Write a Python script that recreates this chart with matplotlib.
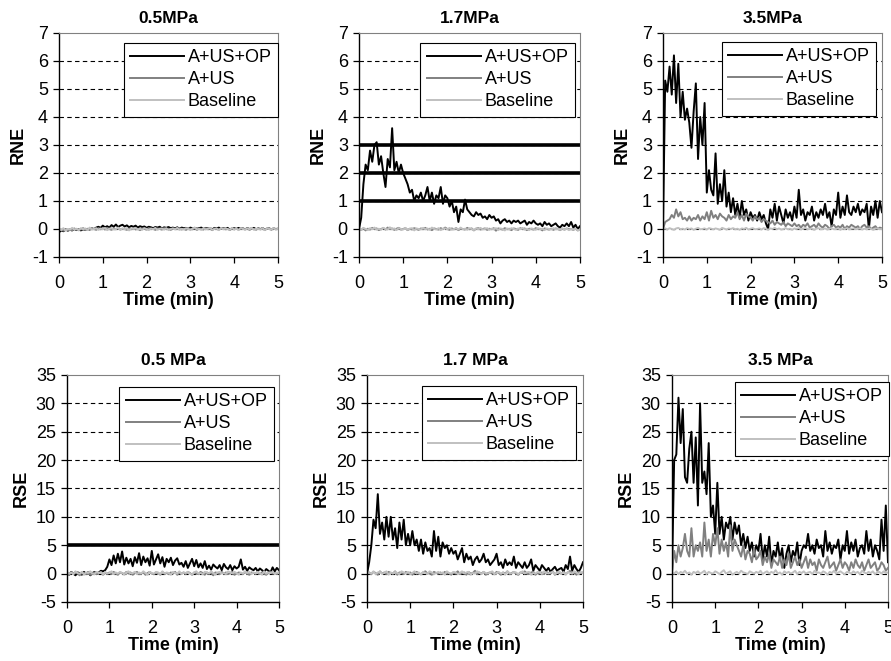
import matplotlib
matplotlib.use('Agg')
import matplotlib.pyplot as plt
import numpy as np

plt.rcParams['font.family'] = ['Liberation Sans', 'DejaVu Sans']
plt.rcParams['axes.unicode_minus'] = False

# series names and colours
labels = ['A+US+OP', 'A+US', 'Baseline']
colors = ['black', '#808080', '#c0c0c0']

titles = ['0.5MPa', '1.7MPa', '3.5MPa', '0.5 MPa', '1.7 MPa', '3.5 MPa']
ylabels = ['RNE', 'RNE', 'RNE', 'RSE', 'RSE', 'RSE']
xticks = [0, 1, 2, 3, 4, 5]
rne_ticks = [-1, 0, 1, 2, 3, 4, 5, 6, 7]
rse_ticks = [-5, 0, 5, 10, 15, 20, 25, 30, 35]

# threshold lines (thick solid)
rne_17_limits = [1, 2, 3]
rse_05_limits = [5]

# ---- RNE, 0.5 MPa ----
rne_05_op = [-0.12,-0.05,-0.08,-0.02,-0.06,-0.03,-0.05,0.0,-0.04,-0.02,-0.05,-0.01,-0.03,0.0,-0.02,0.02,0.0,0.05,0.08,0.04,
             0.12,0.06,0.1,0.05,0.14,0.08,0.16,0.07,0.12,0.15,0.09,0.13,0.06,0.11,0.08,0.12,0.05,0.1,0.07,0.09,
             0.04,0.08,0.06,0.03,0.07,0.05,0.08,0.02,0.06,0.04,0.07,0.03,0.05,0.02,0.06,0.01,0.05,0.03,0.04,0.0,
             0.05,0.02,0.04,0.01,0.03,0.05,0.0,0.04,0.02,0.03,-0.01,0.04,0.02,0.05,0.0,0.03,0.01,0.04,-0.02,0.02,
             0.03,0.0,0.04,0.01,0.02,-0.01,0.03,0.0,0.02,0.04,-0.01,0.02,0.0,0.03,-0.02,0.01,0.02,-0.01,0.02,0.0,0.01]
rne_05_us = [-0.05,-0.02,-0.06,0.0,-0.04,-0.01,-0.05,0.02,-0.03,0.0,-0.02,0.03,-0.04,0.01,-0.02,0.02,0.0,-0.03,0.03,-0.01,
             0.02,-0.02,0.04,0.0,-0.03,0.02,-0.01,0.03,-0.02,0.01,0.0,-0.03,0.02,-0.01,0.03,-0.02,0.01,-0.04,0.02,0.0,
             -0.02,0.03,-0.01,0.01,-0.03,0.02,0.0,-0.02,0.03,-0.01,0.01,-0.03,0.02,-0.01,0.0,0.03,-0.02,0.01,-0.03,0.02,
             0.0,-0.01,0.02,-0.03,0.01,0.0,-0.02,0.03,-0.01,0.01,-0.04,0.02,0.0,-0.02,0.01,0.03,-0.01,0.0,-0.03,0.02,
             -0.01,0.01,-0.02,0.03,0.0,-0.01,0.02,-0.03,0.01,0.0,-0.02,0.02,-0.01,0.01,-0.03,0.02,0.0,-0.02,0.01,-0.01,0.0]
rne_05_base = [0.02,-0.04,0.03,-0.06,0.0,-0.03,0.04,-0.02,0.01,-0.05,0.03,-0.01,0.02,-0.04,0.05,-0.02,0.0,0.03,-0.03,0.02,
               -0.01,0.04,-0.04,0.01,0.03,-0.02,0.0,0.05,-0.03,0.02,-0.01,0.03,-0.05,0.02,0.0,0.04,-0.02,0.01,-0.03,0.03,
               0.0,-0.04,0.02,-0.01,0.04,-0.03,0.01,0.02,-0.02,0.03,-0.04,0.0,0.02,-0.01,0.04,-0.03,0.01,-0.02,0.03,0.0,
               -0.04,0.02,0.05,-0.01,0.0,-0.03,0.03,-0.02,0.01,0.04,-0.03,0.0,0.02,-0.04,0.03,-0.01,0.02,0.0,-0.03,0.04,
               -0.02,0.01,-0.04,0.03,0.0,-0.02,0.02,-0.01,0.04,-0.03,0.01,0.0,-0.02,0.03,-0.04,0.02,0.0,-0.01,0.03,-0.02,0.01]

# ---- RNE, 1.7 MPa ----
rne_17_op = [0.0,0.4,1.6,2.3,2.1,2.8,2.4,3.0,3.1,2.3,2.6,2.0,1.5,2.5,2.2,3.6,2.1,2.4,2.0,2.3,
             2.0,1.8,1.6,1.3,1.4,1.0,1.2,1.1,1.3,1.0,1.2,1.5,1.0,1.3,0.9,1.2,1.1,1.5,0.9,1.2,
             1.1,0.8,1.0,0.6,0.8,0.25,0.7,0.6,1.05,0.7,0.6,0.5,0.45,0.6,0.5,0.55,0.4,0.45,0.35,0.5,
             0.4,0.45,0.3,0.35,0.2,0.3,0.35,0.25,0.3,0.2,0.3,0.25,0.3,0.2,0.25,0.3,0.15,0.25,0.2,0.3,
             0.2,0.15,0.2,0.1,0.25,0.15,0.2,0.1,0.15,0.2,0.1,0.05,0.15,0.1,0.2,0.1,0.25,0.05,0.15,0.0,0.1]
rne_17_us = [0.0,-0.03,0.02,-0.05,0.01,-0.02,0.04,-0.01,0.02,-0.04,0.0,0.03,-0.02,0.05,-0.01,0.02,-0.03,0.01,0.04,-0.02,
             0.0,0.03,-0.04,0.01,-0.02,0.03,0.0,-0.03,0.02,-0.01,0.04,-0.02,0.01,-0.04,0.02,0.0,-0.02,0.03,-0.01,0.05,
             0.0,-0.03,0.02,-0.01,0.03,-0.04,0.01,0.0,-0.02,0.04,-0.01,0.02,-0.05,0.01,0.03,-0.02,0.0,0.02,-0.03,0.01,
             -0.01,0.03,-0.06,0.02,0.0,-0.02,0.03,-0.01,0.01,-0.04,0.02,0.0,-0.03,0.03,-0.01,0.02,-0.04,0.01,0.0,-0.02,
             0.03,-0.01,0.01,-0.05,0.02,0.0,-0.02,0.01,-0.03,0.02,0.0,-0.04,0.01,-0.02,0.02,-0.01,0.0,-0.03,0.01,-0.05,-0.02]
rne_17_base = [0.02,-0.03,0.04,0.0,-0.04,0.03,-0.01,0.05,-0.02,0.01,-0.03,0.04,0.0,-0.02,0.06,-0.01,0.02,-0.04,0.03,0.0,
               -0.02,0.04,-0.03,0.01,0.03,-0.05,0.02,0.0,-0.02,0.04,-0.01,0.02,-0.03,0.05,0.0,-0.02,0.03,-0.04,0.01,0.02,
               -0.01,0.04,-0.03,0.0,0.02,-0.02,0.05,-0.01,0.01,-0.03,0.03,0.0,-0.04,0.02,-0.01,0.04,-0.02,0.0,0.03,-0.03,
               0.01,-0.01,0.03,-0.04,0.02,0.0,-0.05,0.02,-0.02,0.03,0.0,-0.03,0.02,-0.01,0.04,-0.02,0.01,-0.04,0.02,0.0,
               -0.03,0.03,-0.01,0.01,-0.04,0.02,0.0,-0.02,0.03,-0.01,0.0,-0.03,0.02,-0.02,0.01,-0.04,0.0,-0.02,0.01,-0.05,-0.03]

# ---- RNE, 3.5 MPa ----
rne_35_op = [0.0,5.3,4.9,5.8,4.8,6.2,4.5,5.9,4.0,4.9,3.9,4.3,3.8,2.9,4.2,5.2,2.5,4.0,3.0,4.5,
             1.3,2.1,1.4,1.2,2.7,0.9,1.6,1.0,2.1,0.8,1.3,0.6,1.1,0.5,0.9,0.4,1.0,0.5,0.7,0.3,
             0.6,0.4,0.5,0.3,0.6,0.35,0.5,0.2,0.0,0.7,0.4,0.9,0.3,0.8,0.5,0.2,0.7,0.4,0.6,0.3,
             0.8,0.4,1.4,0.5,0.7,0.3,0.6,0.5,0.8,0.3,0.6,0.4,0.7,0.5,0.9,0.4,0.6,0.1,0.7,0.5,
             1.3,0.4,0.8,0.5,1.2,0.6,0.5,0.8,0.6,0.9,0.5,0.7,0.6,0.9,0.0,0.8,0.5,1.0,0.4,1.0,0.6]
rne_35_us = [0.0,0.25,0.3,0.35,0.5,0.4,0.7,0.45,0.6,0.35,0.4,0.3,0.45,0.3,0.4,0.35,0.5,0.3,0.45,0.35,
             0.6,0.3,0.65,0.4,0.5,0.35,0.55,0.45,0.4,0.3,0.5,0.35,0.45,0.4,0.6,0.35,0.5,0.3,0.55,0.45,
             0.4,0.3,0.45,0.35,0.4,0.25,0.35,0.3,0.25,0.2,0.3,0.15,0.25,0.2,0.15,0.25,0.1,0.2,0.15,0.1,
             0.2,0.1,0.15,0.05,0.15,0.1,0.2,0.05,0.1,0.15,0.05,0.2,0.1,0.05,0.15,0.1,0.0,0.1,0.15,0.05,
             0.1,0.05,0.15,0.0,0.1,0.05,0.15,0.1,0.05,0.1,0.0,0.1,0.15,0.05,0.1,0.0,0.05,0.1,0.0,0.05,0.02]
rne_35_base = [0.0,0.02,-0.02,0.03,0.0,-0.03,0.02,0.04,-0.01,0.01,-0.02,0.03,0.0,0.02,-0.03,0.01,0.04,-0.01,0.0,0.02,
               -0.02,0.03,0.01,-0.01,0.02,0.0,-0.03,0.04,0.01,-0.02,0.02,0.0,0.03,-0.01,0.01,-0.03,0.02,0.0,0.04,-0.02,
               0.01,0.03,-0.01,0.0,0.02,-0.02,0.03,0.01,-0.03,0.02,0.0,0.04,-0.01,0.02,-0.02,0.0,0.03,-0.01,0.01,-0.03,
               0.02,0.0,0.03,-0.02,0.01,0.04,-0.01,0.0,0.02,-0.03,0.01,0.03,-0.01,0.0,0.02,-0.02,0.01,0.03,-0.01,0.0,
               0.02,-0.03,0.01,0.0,0.03,-0.02,0.01,0.02,-0.01,0.0,0.03,-0.02,0.01,-0.01,0.02,0.0,-0.03,0.01,0.02,-0.01,0.0]

# ---- RSE, 0.5 MPa ----
rse_05_op = [0.2,-0.2,0.3,0.0,-0.3,0.2,0.1,-0.2,0.3,0.0,0.2,-0.3,0.1,0.3,-0.1,0.2,0.5,0.4,0.6,1.2,
             2.5,1.5,3.2,1.8,3.5,2.0,3.9,1.6,2.8,1.8,2.6,1.3,2.9,1.9,3.6,1.5,3.0,2.0,2.7,1.4,
             4.0,1.6,2.5,3.4,1.8,2.9,1.2,2.6,2.0,2.8,1.5,2.3,2.7,1.6,1.9,1.2,2.2,1.0,1.8,2.6,
             1.3,2.4,1.1,1.8,1.0,2.2,0.8,1.4,0.7,1.6,1.2,0.9,1.5,0.6,1.7,1.1,0.8,1.5,0.6,1.3,
             0.9,1.2,2.5,0.7,1.2,0.5,1.1,0.8,0.6,1.0,0.4,0.9,0.6,0.3,0.8,0.5,0.2,1.1,0.4,1.0,0.6]
rse_05_us = [0.1,-0.2,0.2,-0.1,0.3,0.0,-0.3,0.2,0.1,-0.1,0.3,-0.2,0.0,0.2,-0.1,0.1,0.3,-0.2,0.1,0.0,
             0.2,-0.1,0.3,0.0,-0.2,0.2,0.1,-0.1,0.3,0.0,0.2,-0.2,0.1,0.3,-0.1,0.0,0.2,-0.2,0.1,0.3,
             0.0,-0.1,0.2,0.1,-0.2,0.3,0.0,0.1,-0.1,0.2,0.0,0.3,-0.2,0.1,0.0,0.2,-0.1,0.3,0.1,-0.2,
             0.2,0.0,-0.1,0.3,0.1,-0.2,0.2,0.0,0.1,-0.3,0.2,0.1,-0.1,0.3,0.0,0.2,-0.1,0.1,0.3,-0.2,
             0.0,0.2,0.1,-0.1,0.3,0.0,-0.2,0.2,0.1,0.0,0.3,-0.1,0.2,0.0,-0.2,0.1,0.3,0.0,0.1,-0.1,0.2]
rse_05_base = [0.3,0.0,0.2,-0.1,0.4,0.1,0.0,0.3,-0.2,0.2,0.1,0.4,0.0,-0.1,0.3,0.1,0.2,-0.2,0.3,0.0,
               0.1,0.4,-0.1,0.2,0.0,0.3,0.1,-0.2,0.2,0.4,0.0,0.1,0.3,-0.1,0.2,0.0,0.4,0.1,-0.2,0.3,
               0.1,0.0,0.3,0.2,-0.1,0.4,0.0,0.2,0.1,-0.2,0.3,0.1,0.0,0.4,-0.1,0.2,0.1,0.3,0.0,-0.2,
               0.2,0.4,0.0,0.1,-0.1,0.3,0.2,0.0,0.4,0.1,-0.2,0.2,0.3,0.0,0.1,-0.1,0.4,0.2,0.0,0.3,
               0.1,-0.2,0.2,0.0,0.4,0.1,0.3,-0.1,0.2,0.0,0.3,0.1,-0.2,0.4,0.0,0.2,0.1,0.3,-0.1,0.2,0.1]

# ---- RSE, 1.7 MPa ----
rse_17_op = [0.0,2.0,5.0,9.5,8.0,14.0,7.0,9.0,6.0,10.0,6.5,10.0,6.0,8.0,4.5,9.0,6.0,9.5,5.0,7.0,
             5.0,7.5,5.0,6.0,4.0,6.0,3.5,5.5,4.0,4.5,3.0,7.5,4.0,6.5,3.0,5.5,4.5,5.0,3.5,4.5,
             3.5,4.0,2.5,3.5,4.5,2.0,3.5,2.5,3.0,1.5,2.5,3.0,2.0,2.5,3.5,2.0,2.5,1.5,2.0,2.5,
             3.5,1.5,2.0,1.0,2.5,1.5,2.0,1.5,3.0,1.0,2.0,1.5,1.0,2.0,1.0,1.5,2.5,0.5,1.5,1.0,
             0.5,1.5,1.0,0.5,1.0,0.3,0.8,1.2,0.5,0.8,1.0,0.3,1.5,0.8,3.0,0.5,1.5,0.8,0.3,1.0,2.0]
rse_17_us = [0.0,0.2,-0.1,0.3,0.1,-0.2,0.4,0.0,0.2,-0.1,0.3,0.1,0.0,0.4,-0.2,0.2,0.1,-0.1,0.3,0.0,
             0.2,-0.2,0.1,0.3,0.0,-0.1,0.2,0.4,0.0,0.1,-0.2,0.3,0.1,0.0,0.2,-0.1,0.3,0.0,0.1,-0.2,
             0.2,0.0,0.4,-0.1,0.1,0.2,-0.2,0.3,0.0,0.1,0.5,-0.1,0.2,0.0,0.3,-0.2,0.1,0.2,0.0,-0.1,
             0.3,0.1,-0.2,0.2,0.0,0.4,-0.1,0.1,0.3,0.0,-0.2,0.2,0.1,0.4,0.0,-0.1,0.2,0.3,-0.2,0.1,
             0.0,0.2,-0.1,0.3,0.1,0.0,0.4,-0.2,0.2,0.1,0.0,0.3,-0.1,0.2,0.5,0.0,0.1,-0.2,0.3,0.1,0.2]
rse_17_base = [0.3,0.1,0.0,0.4,-0.1,0.2,0.3,0.0,0.1,0.4,-0.2,0.2,0.0,0.3,0.1,-0.1,0.4,0.2,0.0,0.3,
               -0.1,0.1,0.4,0.0,0.2,-0.2,0.3,0.1,0.0,0.4,0.2,-0.1,0.1,0.3,0.0,0.2,-0.2,0.4,0.1,0.0,
               0.3,0.2,-0.1,0.1,0.4,0.0,0.2,0.3,-0.2,0.1,0.0,0.4,0.2,-0.1,0.3,0.1,0.0,0.2,0.4,-0.1,
               0.1,0.3,0.0,0.2,-0.2,0.4,0.1,0.0,0.3,0.2,-0.1,0.1,0.4,0.0,0.2,0.3,-0.2,0.1,0.0,0.3,
               0.2,-0.1,0.4,0.1,0.0,0.2,0.3,-0.1,0.1,0.4,0.0,0.2,-0.2,0.3,0.1,0.0,0.4,0.2,-0.1,0.3,0.1]

# ---- RSE, 3.5 MPa ----
rse_35_op = [0.0,20.0,21.0,31.0,23.0,29.0,17.0,16.0,22.0,25.0,16.0,24.0,12.0,30.0,16.0,18.0,14.0,23.0,10.0,12.0,
             7.0,16.0,7.0,10.0,6.0,9.0,8.0,10.0,6.0,9.0,7.0,8.5,5.0,7.0,4.5,6.5,4.0,5.5,3.0,5.0,
             4.0,7.0,2.5,5.0,3.0,6.5,1.5,4.0,3.0,5.5,2.5,4.5,1.0,3.5,5.0,2.0,4.0,3.0,5.5,1.5,
             4.0,5.0,4.5,7.0,4.0,5.0,3.5,6.0,4.5,5.0,3.0,7.5,4.0,5.5,3.5,5.0,4.5,6.0,2.5,5.0,
             4.0,7.5,3.5,5.5,4.0,6.0,3.0,4.5,5.0,3.5,7.5,4.0,6.0,3.0,5.0,4.0,2.5,9.5,4.0,12.0,2.0]
rse_35_us = [0.0,4.0,2.0,5.0,3.0,4.5,7.0,4.0,3.0,8.0,3.0,5.0,4.0,5.5,3.0,9.0,4.0,6.0,3.0,7.0,
             5.0,8.0,3.5,6.0,4.0,5.5,3.0,8.5,4.0,6.0,5.0,4.0,3.0,5.0,2.5,4.0,3.5,2.0,4.5,2.5,
             3.0,4.0,1.5,3.0,2.0,3.5,1.0,2.5,2.0,1.5,3.0,1.0,2.5,1.5,3.5,1.0,2.0,3.0,1.5,2.5,
             1.0,2.0,3.0,1.0,2.5,1.5,2.0,0.5,2.5,1.5,1.0,2.0,3.0,1.0,1.5,2.0,0.5,1.5,2.5,1.0,
             2.0,1.5,0.5,2.0,1.0,2.5,1.5,1.0,2.0,0.5,1.5,2.5,1.0,1.5,2.0,0.5,1.0,2.0,1.5,0.5,1.0]
rse_35_base = [0.2,0.0,0.4,-0.1,0.3,0.1,0.5,0.0,0.2,-0.2,0.3,0.1,0.4,0.0,0.2,0.5,-0.1,0.3,0.1,0.0,
               0.4,0.2,-0.1,0.3,0.6,0.0,0.2,0.4,-0.2,0.1,0.3,0.0,0.5,0.2,0.1,-0.1,0.4,0.2,0.0,0.3,
               0.1,0.5,-0.1,0.2,0.4,0.0,0.3,0.1,0.6,0.0,0.2,-0.2,0.4,0.1,0.3,0.0,0.2,0.5,-0.1,0.3,
               0.1,0.4,0.0,0.2,0.3,-0.1,0.5,0.1,0.2,0.0,0.4,0.2,-0.2,0.3,0.1,0.5,0.0,0.2,0.4,0.1,
               -0.1,0.3,0.2,0.0,0.4,0.1,0.3,-0.1,0.5,0.2,0.0,0.3,0.1,0.4,-0.1,0.2,0.3,0.0,0.4,0.1,0.2]

series = [
    (rne_05_op, rne_05_us, rne_05_base),
    (rne_17_op, rne_17_us, rne_17_base),
    (rne_35_op, rne_35_us, rne_35_base),
    (rse_05_op, rse_05_us, rse_05_base),
    (rse_17_op, rse_17_us, rse_17_base),
    (rse_35_op, rse_35_us, rse_35_base),
]
limits = [[], rne_17_limits, [], rse_05_limits, [], []]

# axes rectangles (figure fractions) and legend anchors
rects = [
    [0.0662, 0.6112, 0.2458, 0.3389],
    [0.4029, 0.6112, 0.2480, 0.3389],
    [0.7441, 0.6112, 0.2458, 0.3389],
    [0.0752, 0.0893, 0.2379, 0.3434],
    [0.4119, 0.0893, 0.2424, 0.3434],
    [0.7542, 0.0893, 0.2424, 0.3434],
]
anchors = [(1.0, 0.955), (0.977, 0.955), (0.973, 0.96),
           (0.976, 0.947), (0.968, 0.952), (1.005, 0.969)]

fig = plt.figure(figsize=(8.91, 6.61), dpi=100)

for i in range(6):
    ax = fig.add_axes(rects[i])
    yt = rne_ticks if i < 3 else rse_ticks

    # dashed grid at inner ticks
    for y in yt[1:-1]:
        ax.axhline(y, color='black', lw=0.8, ls=(0, (4, 3)), zorder=1)
    for y in limits[i]:
        ax.axhline(y, color='black', lw=2.6, zorder=1.5)

    for vals, lab, col in zip(series[i], labels, colors):
        t = np.linspace(0, 5, len(vals))
        ax.plot(t, vals, color=col, lw=1.4, label=lab, zorder=2)

    ax.set_xlim(0, 5)
    ax.set_ylim(yt[0], yt[-1])
    ax.set_xticks(xticks)
    ax.set_yticks(yt)
    ax.tick_params(axis='both', direction='out', length=4, width=0.9, labelsize=13, color='black')
    ax.tick_params(axis='x', pad=9)
    ax.tick_params(axis='y', pad=4)

    for s in ['left', 'bottom']:
        ax.spines[s].set_color('black')
        ax.spines[s].set_linewidth(1.0)
    for s in ['top', 'right']:
        ax.spines[s].set_color('#808080')
        ax.spines[s].set_linewidth(0.8)

    ax.set_title(titles[i], fontsize=12.5, fontweight='bold', pad=7)
    ax.set_xlabel('Time (min)', fontsize=13, fontweight='bold', labelpad=0)
    ax.set_ylabel(ylabels[i], fontsize=13, fontweight='bold', labelpad=4)

    leg = ax.legend(loc='upper right', bbox_to_anchor=anchors[i], fontsize=13,
                    frameon=True, fancybox=False, edgecolor='black', framealpha=1,
                    handlelength=3.0, handletextpad=0.2, borderpad=0.35,
                    labelspacing=0.28, borderaxespad=0)
    leg.get_frame().set_linewidth(0.8)

fig.savefig('out.png', dpi=100)
